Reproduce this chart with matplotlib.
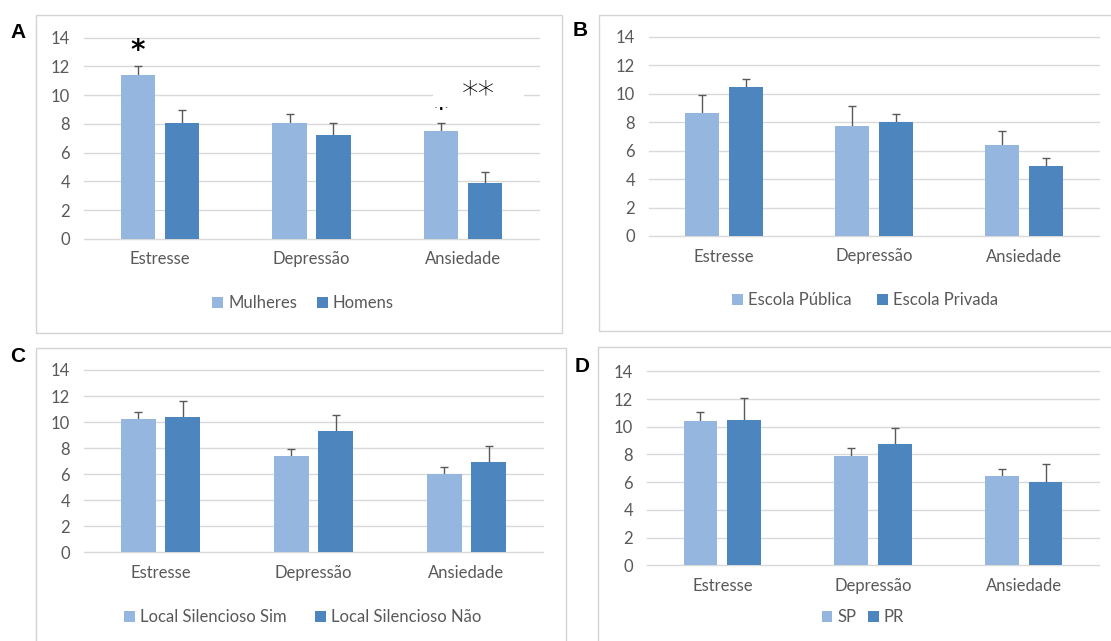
import numpy as np
import matplotlib.pyplot as plt
from matplotlib.patches import Rectangle

W, H = 1111, 641

categorias = ['Estresse', 'Depressão', 'Ansiedade']

# A - sexo
mulheres = [11.4, 8.1, 7.5]
mulheres_err = [0.65, 0.6, 0.55]
homens = [8.1, 7.25, 3.9]
homens_err = [0.9, 0.83, 0.74]

# B - escola
publica = [8.62, 7.73, 6.39]
publica_err = [1.26, 1.43, 0.96]
privada = [10.45, 8.03, 4.9]
privada_err = [0.56, 0.56, 0.56]

# C - local silencioso
sil_sim = [10.2, 7.42, 6.01]
sil_sim_err = [0.59, 0.54, 0.54]
sil_nao = [10.36, 9.29, 6.91]
sil_nao_err = [1.25, 1.28, 1.25]

# D - estado
sp = [10.44, 7.91, 6.42]
sp_err = [0.6, 0.55, 0.53]
pr = [10.49, 8.78, 6.04]
pr_err = [1.59, 1.13, 1.3]

yticks = [0, 2, 4, 6, 8, 10, 12, 14]

claro = '#95b7df'
escuro = '#4d85bf'
cinza = '#595959'
fonte = 'Lato'
tam = 12

fig = plt.figure(figsize=(W / 100, H / 100), dpi=100)
fig.patch.set_facecolor('white')


def px_rect(x0, x1, ytop, ybot):
    return [x0 / W, 1 - ybot / H, (x1 - x0) / W, (ybot - ytop) / H]


def caixa(x0, y0, x1, y1):
    r = Rectangle((x0 / W, 1 - y1 / H), (x1 - x0) / W, (y1 - y0) / H,
                  transform=fig.transFigure, fill=False,
                  edgecolor='#d4d4d4', linewidth=1.0)
    fig.add_artist(r)


def painel(rect, s1, e1, s2, e2, nomes, leg_xy, colsp):
    ax = fig.add_axes(rect)
    x = np.arange(len(categorias))
    w = 0.225
    off = 0.145
    ax.bar(x - off, s1, w, color=claro, zorder=2, label=nomes[0])
    ax.bar(x + off, s2, w, color=escuro, zorder=2, label=nomes[1])
    ax.errorbar(x - off, s1, yerr=e1, fmt='none', ecolor=cinza,
                elinewidth=1, capsize=3, capthick=1, zorder=1)
    ax.errorbar(x + off, s2, yerr=e2, fmt='none', ecolor=cinza,
                elinewidth=1, capsize=3, capthick=1, zorder=1)
    ax.set_xlim(-0.5, 2.5)
    ax.set_ylim(0, 14)
    ax.set_yticks(yticks)
    ax.set_xticks(x)
    ax.set_xticklabels(categorias)
    for s in ax.spines.values():
        s.set_visible(False)
    for yv in yticks:
        ax.axhline(yv, color='#d9d9d9', linewidth=1, zorder=0, clip_on=False)
    ax.tick_params(axis='both', length=0, labelcolor=cinza, labelsize=tam)
    ax.tick_params(axis='x', pad=9)
    ax.tick_params(axis='y', pad=10)
    for t in ax.get_xticklabels() + ax.get_yticklabels():
        t.set_fontfamily(fonte)
    leg = ax.legend(loc='center', bbox_to_anchor=(leg_xy[0] / W, 1 - leg_xy[1] / H),
                    bbox_transform=fig.transFigure, ncol=2, frameon=False,
                    handlelength=0.65, handleheight=0.65, handletextpad=0.3,
                    columnspacing=colsp, prop={'family': fonte, 'size': tam})
    for t in leg.get_texts():
        t.set_color(cinza)
    return ax


caixa(36, 15, 562, 333)
caixa(599, 15, 1115, 331)
caixa(36, 348, 566, 645)
caixa(598, 347, 1115, 645)

axA = painel(px_rect(84, 539, 37.7, 239), mulheres, mulheres_err, homens, homens_err,
             ['Mulheres', 'Homens'], (303, 303), 1.2)
axB = painel(px_rect(649, 1099, 36.7, 236), publica, publica_err, privada, privada_err,
             ['Escola Pública', 'Escola Privada'], (865, 300), 1.5)
axC = painel(px_rect(84, 543, 370, 552.3), sil_sim, sil_sim_err, sil_nao, sil_nao_err,
             ['Local Silencioso Sim', 'Local Silencioso Não'], (303, 617), 1.7)
axD = painel(px_rect(647, 1099, 371.3, 565.3), sp, sp_err, pr, pr_err,
             ['SP', 'PR'], (863, 617), 0.7)

# letras dos paineis
for letra, (lx, ly) in zip('ABCD', [(18, 32), (580, 30), (18, 356), (582, 366)]):
    fig.text(lx / W, 1 - ly / H, letra, fontsize=15, fontweight='bold',
             family='Liberation Sans', ha='center', va='center', color='black')

# marcas de significancia no painel A
axA.text(-0.145, 13.1, '*', fontsize=20, fontweight='bold', ha='center',
         va='center', family='DejaVu Sans', zorder=3)
axA.text(1.855, 8.95, '*', fontsize=20, fontweight='bold', ha='center',
         va='center', family='DejaVu Sans', zorder=3)
axA.add_patch(Rectangle((1.80, 9.15), 0.6, 2.1, facecolor='white',
                        edgecolor='none', zorder=4, clip_on=False))
axA.text(2.10, 10.0, '**', fontsize=24, ha='center', va='center',
         family='DejaVu Sans', fontweight='light', zorder=5)

plt.savefig('out.png', dpi=100)
